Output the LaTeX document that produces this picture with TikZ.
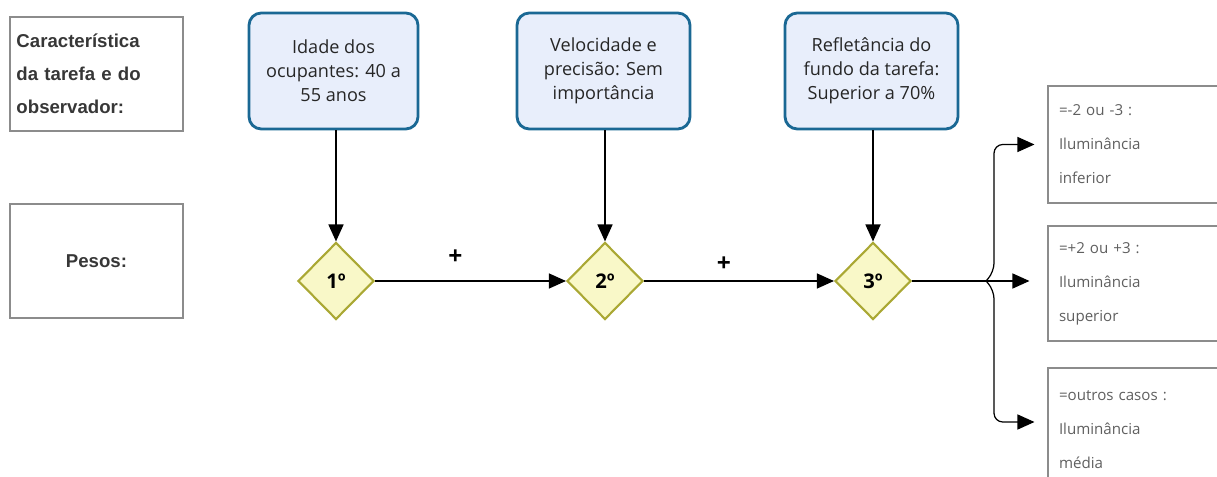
\documentclass[tikz,border=0pt]{standalone}
\usepackage{fontspec}
\setmainfont{Open Sans}
\newfontfamily\labelfont{Liberation Sans}
\usetikzlibrary{shapes.geometric, arrows.meta, positioning}
\definecolor{cborder}{RGB}{26,104,148}
\definecolor{cfill}{RGB}{232,238,251}
\definecolor{dborder}{RGB}{170,168,52}
\definecolor{dfill}{RGB}{249,248,200}
\definecolor{gborder}{RGB}{140,140,140}
\definecolor{gtext}{RGB}{55,55,55}
\definecolor{otext}{RGB}{95,95,95}

\begin{document}
\begin{tikzpicture}[
  font=\fontsize{10.3}{13.6}\selectfont,
  side/.style={draw=gborder,line width=0.6pt,minimum width=3.46cm,minimum height=2.28cm,
               text width=3.2cm,align=left,text=gtext,
               font=\labelfont\bfseries\fontsize{10.6}{18.7}\selectfont},
  crit/.style={draw=cborder,fill=cfill,line width=1.6pt,rounded corners=7pt,
               minimum width=3.38cm,minimum height=2.32cm,
               align=center,text=black!85},
  peso/.style={diamond,draw=dborder,fill=dfill,line width=1.2pt,inner sep=0pt,
               minimum width=1.52cm,minimum height=1.54cm,
               font=\bfseries\fontsize{11.5}{12}\selectfont},
  resbox/.style={draw=gborder,line width=0.6pt,minimum width=3.64cm,
              text width=3.2cm,align=left,text=otext,
              font=\fontsize{8.6}{19.3}\selectfont},
  plus/.style={font=\bfseries\fontsize{14}{14}\selectfont},
  arr/.style={-{Triangle[length=0.34cm,width=0.3cm]},line width=0.7pt},
  varr/.style={-{Triangle[length=0.34cm,width=0.3cm]},line width=1pt}
]
  \useasboundingbox (0,0) rectangle (24.34,-9.54);

  % Left column
  \node[side] (carac) at (1.93,-1.48) {Característica\\da tarefa e do\\observador:};
  \node[side,align=center] (pesos) at (1.93,-5.22) {Pesos:};

  % Criteria
  \node[crit] (c1) at (6.67,-1.42) {Idade dos\\ocupantes: 40 a\\55 anos};
  \node[crit,minimum width=3.46cm] (c2) at (12.07,-1.42) {Velocidade e\\precisão: Sem\\importância};
  \node[crit,minimum width=3.46cm] (c3) at (17.43,-1.42) {Refletância do\\fundo da tarefa:\\Superior a 70\%};

  % Weights
  \node[peso] (p1) at (6.72,-5.62) {1º};
  \node[peso] (p2) at (12.10,-5.62) {2º};
  \node[peso] (p3) at (17.46,-5.62) {3º};

  \draw[varr] (c1.south -| p1.north) -- (p1.north);
  \draw[varr] (c2.south -| p2.north) -- (p2.north);
  \draw[varr] (c3.south -| p3.north) -- (p3.north);

  \draw[arr] (p1.east) -- node[plus,above=0.2cm,xshift=-0.3cm] (plus1) {+} (p2.west);
  \draw[arr] (p2.east) -- node[plus,above=0.06cm,xshift=-0.3cm] (plus2) {+} (p3.west);

  % Results
  \node[resbox,minimum height=2.34cm] (o1) at (22.78,-2.89) {=-2 ou -3 :\\Iluminância\\inferior};
  \node[resbox,minimum height=2.30cm] (o2) at (22.78,-5.67) {=+2 ou +3 :\\Iluminância\\superior};
  \node[resbox,minimum height=2.48cm] (o3) at (22.78,-8.60) {=outros casos :\\Iluminância\\média};

  % Brace
  \coordinate (br) at (19.72,-5.62);
  \draw[line width=0.7pt] (p3.east) -- (br);
  \draw[arr] (br) -- ([xshift=-0.36cm]o2.west |- br);
  \draw[arr,rounded corners=5pt] (br) -- ++(0.16,0.18) |- ([xshift=-0.26cm,yshift=0.0cm]o1.west);
  \draw[arr,rounded corners=5pt] (br) -- ++(0.16,-0.18) |- ([xshift=-0.26cm]o1.west |- 0,-8.44);
\end{tikzpicture}
\end{document}
